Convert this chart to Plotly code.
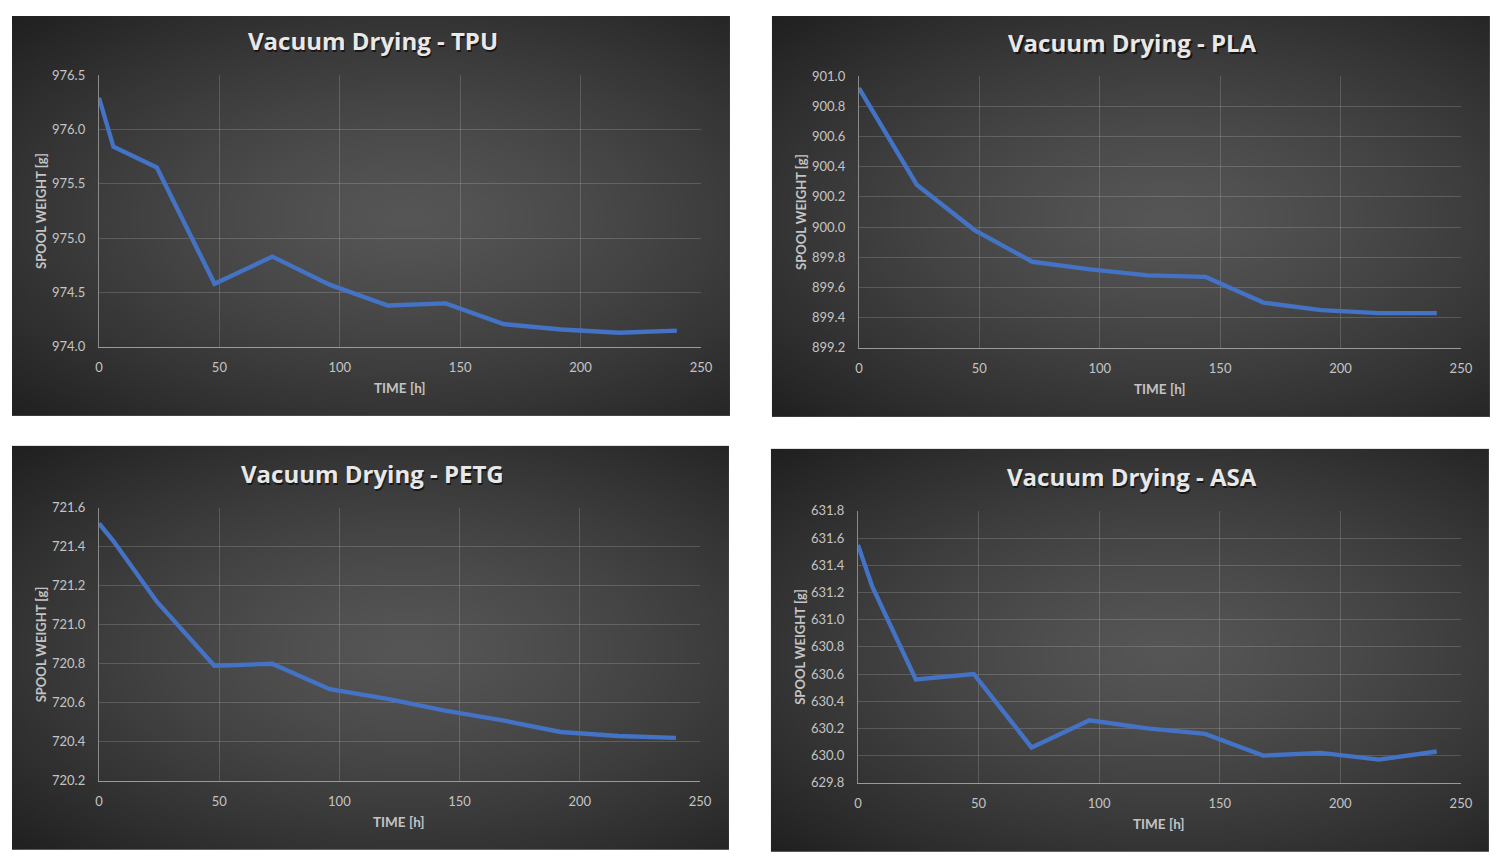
import base64, struct, zlib, math
import plotly.graph_objects as go

# ---------------- data ----------------
time_h = [0, 6, 24, 48, 72, 96, 120, 144, 168, 192, 216, 240]
tpu_weight = [976.29, 975.84, 975.65, 974.58, 974.83, 974.57, 974.38, 974.40, 974.21, 974.16, 974.13, 974.15]
pla_weight = [900.92, 900.76, 900.28, 899.98, 899.77, 899.72, 899.68, 899.67, 899.50, 899.45, 899.43, 899.43]
petg_weight = [721.52, 721.43, 721.12, 720.79, 720.80, 720.67, 720.62, 720.56, 720.51, 720.45, 720.43, 720.42]
asa_weight = [631.55, 631.24, 630.56, 630.60, 630.06, 630.26, 630.20, 630.16, 630.00, 630.02, 629.97, 630.03]
titles = ["Vacuum Drying - TPU", "Vacuum Drying - PLA", "Vacuum Drying - PETG", "Vacuum Drying - ASA"]
y_ranges = [[974.0, 976.5], [899.2, 901.0], [720.2, 721.6], [629.8, 631.8]]
y_dticks = [0.5, 0.2, 0.2, 0.2]
x_range = [0, 250]
x_dtick = 50
x_title = "TIME [h]"
y_title = "SPOOL WEIGHT [g]"
series = [tpu_weight, pla_weight, petg_weight, asa_weight]

W, H = 1500, 865
FONT = "Lato"
TFONT = "Open Sans"

# target positions in the final picture: panel x0,x1,y0,y1 ; plot x0,x1,y0,y1
panels = [
    dict(px=(12, 730), py=(13, 416), ax=(99, 701), ay=(75, 347)),
    dict(px=(772, 1490), py=(15, 417), ax=(859, 1461), ay=(76, 348)),
    dict(px=(12, 729), py=(446, 850), ax=(99, 700), ay=(508, 781)),
    dict(px=(771, 1489), py=(449, 852), ax=(858, 1461), ay=(511, 783)),
]

# page -> picture mapping observed for the photographed page
SX, OX = 0.9894, 12.0
SY, OY = 0.9818, 16.0


def dx(v):
    return (v - OX) / SX


def dy(v):
    return (v - OY) / SY


def fx(v):
    return dx(v) / W


def fy(v):
    return 1 - dy(v) / H


def radial_png(w=240, h=135):
    raw = bytearray()
    cx, cy = w * 0.55, h * 0.5
    for y in range(h):
        raw.append(0)
        for x in range(w):
            ddx = (x - cx) / (w * 0.55)
            ddy = (y - cy) / (h * 0.5)
            t = min(1.0, math.sqrt(ddx * ddx + ddy * ddy) / math.sqrt(2))
            v = int(86 - 54 * (t ** 1.3))
            raw += bytes((v, v, v))

    def chunk(tag, data):
        c = struct.pack(">I", len(data)) + tag + data
        return c + struct.pack(">I", zlib.crc32(tag + data) & 0xFFFFFFFF)

    png = b"\x89PNG\r\n\x1a\n"
    png += chunk(b"IHDR", struct.pack(">IIBBBBB", w, h, 8, 2, 0, 0, 0))
    png += chunk(b"IDAT", zlib.compress(bytes(raw), 9))
    png += chunk(b"IEND", b"")
    return "data:image/png;base64," + base64.b64encode(png).decode()


bg = radial_png()

fig = go.Figure()
images, annotations = [], []
layout_axes = {}

for i, (p, ys, title) in enumerate(zip(panels, series, titles)):
    n = "" if i == 0 else str(i + 1)
    fig.add_trace(go.Scatter(
        x=time_h, y=ys, mode="lines",
        line=dict(color="#4472C4", width=4.4),
        xaxis="x" + n, yaxis="y" + n, showlegend=False, hoverinfo="x+y"))

    px0, px1 = p["px"]; py0, py1 = p["py"]
    ax0, ax1 = p["ax"]; ay0, ay1 = p["ay"]

    top = max(0.0, dy(py0))
    images.append(dict(source=bg, xref="paper", yref="paper",
                       x=fx(px0), y=1 - top / H,
                       sizex=(dx(px1) - dx(px0)) / W, sizey=(dy(py1) - top) / H,
                       xanchor="left", yanchor="top", sizing="stretch", layer="below"))

    tickfont = dict(family=FONT, size=13, color="#c4c4c4")
    layout_axes["xaxis" + n] = dict(
        domain=[fx(ax0), fx(ax1)], anchor="y" + n, range=x_range, dtick=x_dtick,
        showgrid=True, gridcolor="rgba(255,255,255,0.16)", gridwidth=1,
        showline=True, linecolor="#9a9a9a", linewidth=1.3,
        zeroline=False, ticks="outside", ticklen=8, tickcolor="rgba(0,0,0,0)",
        tickfont=tickfont, fixedrange=True)
    layout_axes["yaxis" + n] = dict(
        domain=[fy(ay1), fy(ay0)], anchor="x" + n, range=y_ranges[i], dtick=y_dticks[i],
        tickformat=".1f", showgrid=True, gridcolor="rgba(255,255,255,0.16)", gridwidth=1,
        showline=True, linecolor="#8a8a8a", linewidth=1.3,
        zeroline=False, ticks="outside", ticklen=10, tickcolor="rgba(0,0,0,0)",
        tickfont=tickfont, fixedrange=True)

    cxp = (px0 + px1) / 2 + 2
    ty = py0 + 28
    # title shadow + title
    annotations.append(dict(text="<b>" + title + "</b>", xref="paper", yref="paper",
                            x=fx(cxp + 1.5), y=fy(ty + 1.5), showarrow=False,
                            font=dict(family=TFONT, size=24, color="rgba(0,0,0,0.6)"),
                            xanchor="center", yanchor="middle"))
    annotations.append(dict(text="<b>" + title + "</b>", xref="paper", yref="paper",
                            x=fx(cxp), y=fy(ty), showarrow=False,
                            font=dict(family=TFONT, size=24, color="#e8e8e8"),
                            xanchor="center", yanchor="middle"))
    # axis titles
    annotations.append(dict(text="<b>" + x_title + "</b>", xref="paper", yref="paper",
                            x=fx((ax0 + ax1) / 2), y=fy(ay1 + 41), showarrow=False,
                            font=dict(family=FONT, size=13.5, color="#c4c4c4"),
                            xanchor="center", yanchor="middle"))
    annotations.append(dict(text="<b>" + y_title + "</b>", xref="paper", yref="paper",
                            x=fx(px0 + 29), y=fy((ay0 + ay1) / 2), showarrow=False,
                            textangle=-90,
                            font=dict(family=FONT, size=13, color="#c4c4c4"),
                            xanchor="center", yanchor="middle"))

fig.update_layout(
    width=W, height=H, margin=dict(l=0, r=0, t=0, b=0),
    paper_bgcolor="white", plot_bgcolor="rgba(0,0,0,0)",
    images=images, annotations=annotations, showlegend=False,
    **layout_axes)

fig.write_html("out.html")
